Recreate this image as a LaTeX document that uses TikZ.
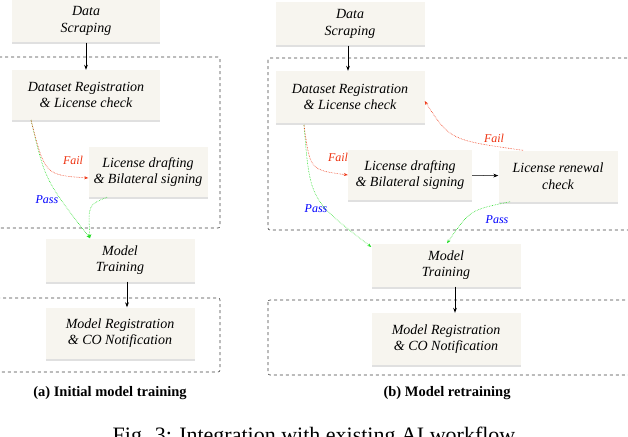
\documentclass[tikz,border=0pt]{standalone}
\usepackage{fontspec}
\setmainfont{Liberation Serif}
\usetikzlibrary{arrows.meta,shadows}
\definecolor{boxfill}{HTML}{F7F5EF}
\definecolor{pgreen}{HTML}{22DD22}
\definecolor{pred}{HTML}{EE3311}
\tikzset{
  box/.style={fill=boxfill,draw=none,minimum height=43pt,align=center,font=\fontsize{14}{16.5}\selectfont\itshape,
     drop shadow={shadow xshift=0pt,shadow yshift=-2pt,fill=black!12,opacity=1}},
  dbox/.style={draw=black!75,dashed,rounded corners=2pt,line width=0.6pt},
  arr/.style={-{Stealth[length=5pt]},line width=0.7pt},
  garr/.style={-{Stealth[length=4pt]},pgreen,densely dotted,line width=0.6pt},
  rarr/.style={-{Stealth[length=4pt]},pred,densely dotted,line width=0.6pt},
  lab/.style={font=\fontsize{12}{14}\selectfont\itshape},
}
\begin{document}
\begin{tikzpicture}[x=1pt,y=-1pt]
\useasboundingbox (0,0) rectangle (628,436);
\begin{scope}
\clip (0,0) rectangle (628,436);
% dashed boxes
\draw[dbox] (-5,57) rectangle (220,228);
\draw[dbox] (-5,298) rectangle (220,372);
\draw[dbox] (268,58) rectangle (632,230);
\draw[dbox] (268,300) rectangle (632,375);
% left
\node[box,minimum width=148pt] (ds) at (86,21) {Data\\Scraping};
\node[box,minimum width=148pt,minimum height=50pt] (dr) at (86,95) {Dataset Registration\\\& License check};
\node[box,minimum width=119pt,minimum height=50pt] (ld) at (148,172) {License drafting\\\& Bilateral signing};
\node[box,minimum width=149pt] (mt) at (120,260) {Model\\Training};
\node[box,minimum width=149pt,minimum height=51pt] (mr) at (120,333) {Model Registration\\\& CO Notification};
\coordinate (drb) at (31,120);
\draw[arr] (ds) -- (dr);
\draw[arr] (mt.south -| 127,0) -- (mr.north -| 127,0);
\draw[garr] (drb) .. controls (45,180) .. (mt.north west -| 90,0);
\draw[rarr] (drb) .. controls (45,175) .. (ld.west |- 0,178);
\draw[garr] (ld.south -| 107,0) .. controls (88,205) .. (mt.north west -| 90,0);
\node[lab,text=pred] (f1) at (73,160) {Fail};
\node[lab,text=blue] (p1) at (47,200) {Pass};
\node[font=\fontsize{14.5}{17}\selectfont\bfseries] (ca) at (110,393) {(a) Initial model training};
% right
\node[box,minimum width=149pt] (ds2) at (350,24) {Data\\Scraping};
\node[box,minimum width=149pt,minimum height=52pt] (dr2) at (350,97) {Dataset Registration\\\& License check};
\node[box,minimum width=124pt,minimum height=50pt] (ld2) at (410,175) {License drafting\\\& Bilateral signing};
\node[box,minimum width=119pt,minimum height=51pt] (lr2) at (558,176) {License renewal\\check};
\node[box,minimum width=149pt] (mt2) at (446,265) {Model\\Training};
\node[box,minimum width=149pt,minimum height=52pt] (mr2) at (446,339) {Model Registration\\\& CO Notification};
\coordinate (drb2) at (304,125);
\draw[arr] (ds2.south -| 348,0) -- (dr2.north -| 348,0);
\draw[arr,line width=1pt] (mt2.south -| 455,0) -- (mr2.north -| 455,0);
\draw[arr,line width=0.5pt] (ld2) -- (lr2);
\draw[garr] (drb2) .. controls (310,200) .. (mt2.north west |- 0,247);
\draw[rarr] (drb2) .. controls (310,170) .. (ld2.west |- 0,175);
\draw[rarr] (lr2.north west -| 523,0) .. controls (450,140) .. (dr2.east |- 0,101);
\draw[garr] (lr2.south west -| 510,0) .. controls (470,210) .. (mt2.north -| 447,0);
\node[lab,text=pred] (f2) at (338,157) {Fail};
\node[lab,text=pred] (f3) at (494,138) {Fail};
\node[lab,text=blue] (p2) at (316,209) {Pass};
\node[lab,text=blue] (p3) at (497,220) {Pass};
\node[font=\fontsize{14.5}{17}\selectfont\bfseries] (cb) at (447,393) {(b) Model retraining};
\node[font=\fontsize{22}{25}\selectfont,anchor=north] (fig) at (314,423) {Fig. 3: Integration with existing AI workflow};
\end{scope}
\end{tikzpicture}
\end{document}
